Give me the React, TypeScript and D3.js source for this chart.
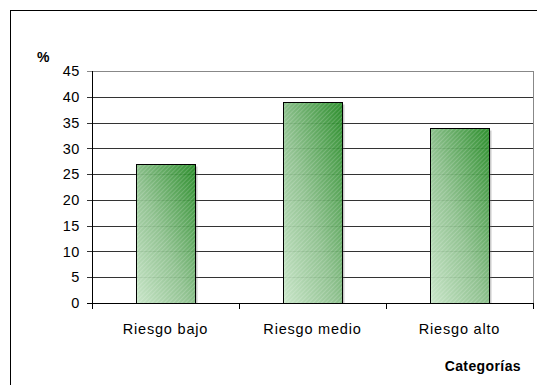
import * as d3 from "d3";

const categories = ["Riesgo bajo", "Riesgo medio", "Riesgo alto"];
const values = [27, 39, 34];
const yTicks = [0, 5, 10, 15, 20, 25, 30, 35, 40, 45];

const W = 537;
const H = 385;
const plot = { left: 92, right: 533, top: 71, bottom: 303 };

const App = () => {
  const x = d3
    .scaleBand()
    .domain(categories)
    .range([plot.left, plot.right])
    .paddingInner(0.6)
    .paddingOuter(0.3);
  const y = d3.scaleLinear().domain([0, 45]).range([plot.bottom, plot.top]);
  const font = "Arial, 'Liberation Sans', sans-serif";

  return (
    <svg
      width={W}
      height={H}
      style={{ position: "absolute", left: 0, top: 0, background: "#fff" }}
    >
      <defs>
        <linearGradient id="barGrad" x1="0" y1="1" x2="1" y2="0">
          <stop offset="0%" stopColor="#c8e8c8" />
          <stop offset="45%" stopColor="#8cc28c" />
          <stop offset="100%" stopColor="#1c881c" />
        </linearGradient>
        <pattern
          id="hatch"
          width="3"
          height="3"
          patternUnits="userSpaceOnUse"
          patternTransform="rotate(45)"
        >
          <rect width="1" height="3" fill="#ffffff" opacity="0.18" />
        </pattern>
      </defs>
      <rect x={10.5} y={10.5} width={W} height={H} fill="none" stroke="#000" />
      <text x={37} y={62} fontFamily={font} fontSize={14} fontWeight="bold">
        %
      </text>
      {/* gridlines */}
      {yTicks.map((t) => (
        <g key={t}>
          <line
            x1={plot.left - 5}
            x2={plot.right}
            y1={Math.round(y(t)) + 0.5}
            y2={Math.round(y(t)) + 0.5}
            stroke={t === 45 ? "#888" : t === 0 ? "#000" : "#333"}
          />
          <text
            x={plot.left - 12}
            y={y(t)}
            dy="0.36em"
            textAnchor="end"
            fontFamily={font}
            fontSize={14.5}
            letterSpacing={0.6}
          >
            {t}
          </text>
        </g>
      ))}
      <line
        x1={plot.right + 0.5}
        x2={plot.right + 0.5}
        y1={plot.top}
        y2={plot.bottom + 5}
        stroke="#888"
      />
      {/* bars */}
      {categories.map((c, i) => {
        const bx = Math.round(x(c) as number) + 0.5;
        const bw = Math.round(x.bandwidth());
        const by = Math.round(y(values[i])) + 0.5;
        const bh = plot.bottom + 0.5 - by;
        return (
          <g key={c}>
            <rect x={bx + 2} y={by + 2} width={bw} height={bh - 2} fill="#666" opacity={0.35} />
            <rect x={bx} y={by} width={bw} height={bh} fill="url(#barGrad)" opacity={0.9} />
            <rect x={bx} y={by} width={bw} height={bh} fill="url(#hatch)" />
            <rect x={bx} y={by} width={bw} height={bh} fill="none" stroke="#000" />
          </g>
        );
      })}
      {/* axes */}
      <line
        x1={plot.left + 0.5}
        x2={plot.left + 0.5}
        y1={plot.top}
        y2={plot.bottom + 1}
        stroke="#000"
      />
      <line
        x1={plot.left}
        x2={plot.right}
        y1={plot.bottom + 0.5}
        y2={plot.bottom + 0.5}
        stroke="#000"
      />
      {[0, 1, 2, 3].map((i) => {
        const tx =
          i < 3 ? Math.round((x(categories[i]) as number) - (x.step() * x.paddingInner()) / 2) : plot.right;
        return (
          <line
            key={i}
            x1={tx + 0.5}
            x2={tx + 0.5}
            y1={plot.bottom}
            y2={plot.bottom + 6}
            stroke="#000"
          />
        );
      })}
      {categories.map((c) => (
        <text
          key={c}
          x={(x(c) as number) + x.bandwidth() / 2}
          y={334}
          textAnchor="middle"
          fontFamily={font}
          fontSize={14.5}
          letterSpacing={0.8}
        >
          {c}
        </text>
      ))}
      <text
        x={521}
        y={371}
        textAnchor="end"
        fontFamily={font}
        fontSize={14}
        fontWeight="bold"
        letterSpacing={0.4}
      >
        Categorías
      </text>
    </svg>
  );
};

export default App;
